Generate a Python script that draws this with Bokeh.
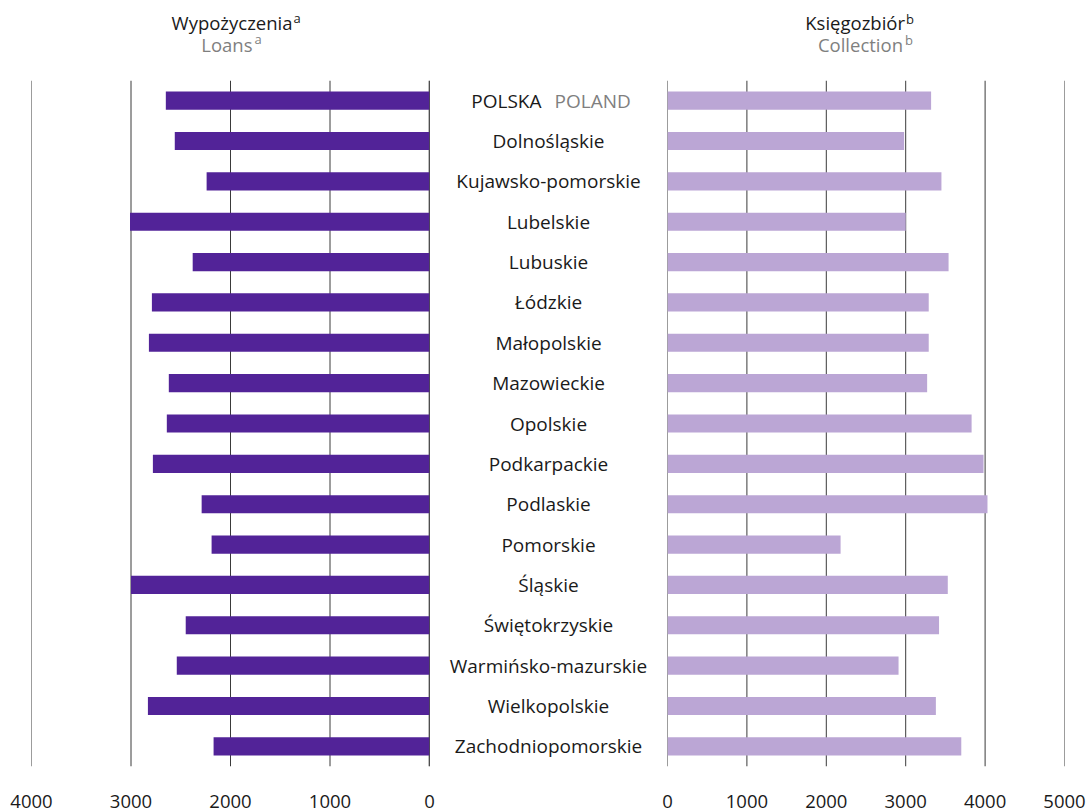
from bokeh.plotting import figure
from bokeh.layouts import row, column
from bokeh.models import FactorRange, Range1d, FixedTicker, ColumnDataSource, Span
from bokeh.core.properties import value
from bokeh.embed import file_html
from bokeh.resources import INLINE

regions = ["POLSKA", "Dolnośląskie", "Kujawsko-pomorskie", "Lubelskie", "Lubuskie",
           "Łódzkie", "Małopolskie", "Mazowieckie", "Opolskie", "Podkarpackie",
           "Podlaskie", "Pomorskie", "Śląskie", "Świętokrzyskie",
           "Warmińsko-mazurskie", "Wielkopolskie", "Zachodniopomorskie"]
poland_en = "POLAND"
loans = [2650, 2560, 2240, 3010, 2380, 2790, 2820, 2620, 2640, 2780,
         2290, 2190, 3000, 2450, 2540, 2830, 2170]
collection = [3320, 2980, 3450, 3000, 3540, 3290, 3290, 3270, 3830, 3980,
              4030, 2180, 3530, 3420, 2910, 3380, 3700]
loan_ticks = [0, 1000, 2000, 3000, 4000]
coll_ticks = [0, 1000, 2000, 3000, 4000, 5000]
loans_title = ["Wypożyczenia", "Loans"]
coll_title = ["Księgozbiór", "Collection"]

FONT = "Open Sans"
TITLE_H = 80
H = 731
BOTTOM = 45
LEFT_W, CENTER_W, RIGHT_W = 439, 218, 429
LEFT_PAD, RIGHT_PAD, INNER_PAD = 31, 22, 10
DARK = "#522398"
LIGHT = "#bba6d5"
GRID = "#3a3a3a"
GREY = "#7f7f7f"
BLACK = "#1a1a1a"

yr = FactorRange(factors=list(reversed(regions)), range_padding=0)
src = ColumnDataSource(dict(region=regions, loans=loans, collection=collection))
xr_left = Range1d(4000, 0)
xr_right = Range1d(0, 5000)


def clean(p):
    p.outline_line_color = None
    p.background_fill_color = "white"
    p.border_fill_color = "white"
    p.grid.grid_line_color = None


def panel(width, xr, left, right, ticks):
    p = figure(width=width, height=H, x_range=xr, y_range=yr,
               output_backend="svg", toolbar_location=None,
               min_border_left=left, min_border_right=right,
               min_border_top=0, min_border_bottom=BOTTOM)
    clean(p)
    p.yaxis.visible = False
    p.xaxis.ticker = FixedTicker(ticks=ticks)
    p.xaxis.axis_line_color = None
    p.xaxis.major_tick_line_color = None
    p.xaxis.minor_tick_line_color = None
    p.xaxis.major_label_standoff = 22
    p.xaxis.major_label_text_font = FONT
    p.xaxis.major_label_text_font_size = "18.5px"
    p.xaxis.major_label_text_color = BLACK
    for t in ticks:
        p.add_layout(Span(location=t, dimension="height", line_color=GRID,
                          line_width=1, level="underlay"))
    return p


def title_fig(width, xr, left, right, xc, words, sup, dx1, dx2, ys):
    t = figure(width=width, height=TITLE_H, x_range=xr, y_range=Range1d(0, TITLE_H),
               output_backend="svg", toolbar_location=None,
               min_border_left=left, min_border_right=right,
               min_border_top=0, min_border_bottom=0)
    clean(t)
    t.axis.visible = False
    y1, y2, s1, s2 = ys
    t.text(x=[xc], y=[y1], text=[words[0]], x_offset=dx1, text_align="right",
           text_baseline="alphabetic", text_font=value(FONT),
           text_font_size="18.5px", text_color=BLACK)
    t.text(x=[xc], y=[s1], text=[sup], x_offset=dx1 + 1, text_align="left",
           text_baseline="alphabetic", text_font=value(FONT),
           text_font_size="13px", text_color=BLACK)
    t.text(x=[xc], y=[y2], text=[words[1]], x_offset=dx2, text_align="right",
           text_baseline="alphabetic", text_font=value(FONT),
           text_font_size="18.5px", text_color=GREY)
    t.text(x=[xc], y=[s2], text=[sup], x_offset=dx2 + 2, text_align="left",
           text_baseline="alphabetic", text_font=value(FONT),
           text_font_size="13px", text_color=GREY)
    return t


# Left panel: loans
pl = panel(LEFT_W, xr_left, LEFT_PAD, INNER_PAD, loan_ticks)
pl.hbar(y="region", left=0, right="loans", height=0.45, source=src,
        fill_color=DARK, line_color=None)
pl.add_layout(Span(location=0, dimension="height", line_color="black",
                   line_width=1.5, level="underlay"))

# Center: labels
pc = figure(width=CENTER_W, height=H, x_range=Range1d(0, 1), y_range=yr,
            output_backend="svg", toolbar_location=None,
            min_border_left=0, min_border_right=0,
            min_border_top=0, min_border_bottom=BOTTOM)
clean(pc)
pc.axis.visible = False
pc.text(x=[0.5] * (len(regions) - 1), y=regions[1:], text=regions[1:],
        text_align="center", text_baseline="middle",
        text_font=value(FONT), text_font_size="19px", text_color=BLACK)
pc.text(x=[0.5], y=regions[:1], text=regions[:1], x_offset=-7,
        text_align="right", text_baseline="middle",
        text_font=value(FONT), text_font_size="19px", text_color=BLACK)
pc.text(x=[0.5], y=regions[:1], text=[poland_en], x_offset=6,
        text_align="left", text_baseline="middle",
        text_font=value(FONT), text_font_size="19px", text_color=GREY)

# Right panel: collection
pr = panel(RIGHT_W, xr_right, INNER_PAD, RIGHT_PAD, coll_ticks)
pr.hbar(y="region", left=0, right="collection", height=0.45, source=src,
        fill_color=LIGHT, line_color=None)

# Titles
tl = title_fig(LEFT_W, xr_left, LEFT_PAD, INNER_PAD, 2000, loans_title, "a", 62, 22,
               (57.7, 36, 62.3, 41.3))
tc = figure(width=CENTER_W, height=TITLE_H, x_range=Range1d(0, 1),
            y_range=Range1d(0, 1), output_backend="svg", toolbar_location=None,
            min_border_left=0, min_border_right=0, min_border_top=0, min_border_bottom=0)
clean(tc)
tc.axis.visible = False
tr = title_fig(RIGHT_W, xr_right, INNER_PAD, RIGHT_PAD, 2500, coll_title, "b", 39, 37,
               (57.7, 36, 62, 41))

layout = column(row(tl, tc, tr, spacing=0), row(pl, pc, pr, spacing=0), spacing=0)
open("out.html", "w").write(file_html(layout, INLINE))
